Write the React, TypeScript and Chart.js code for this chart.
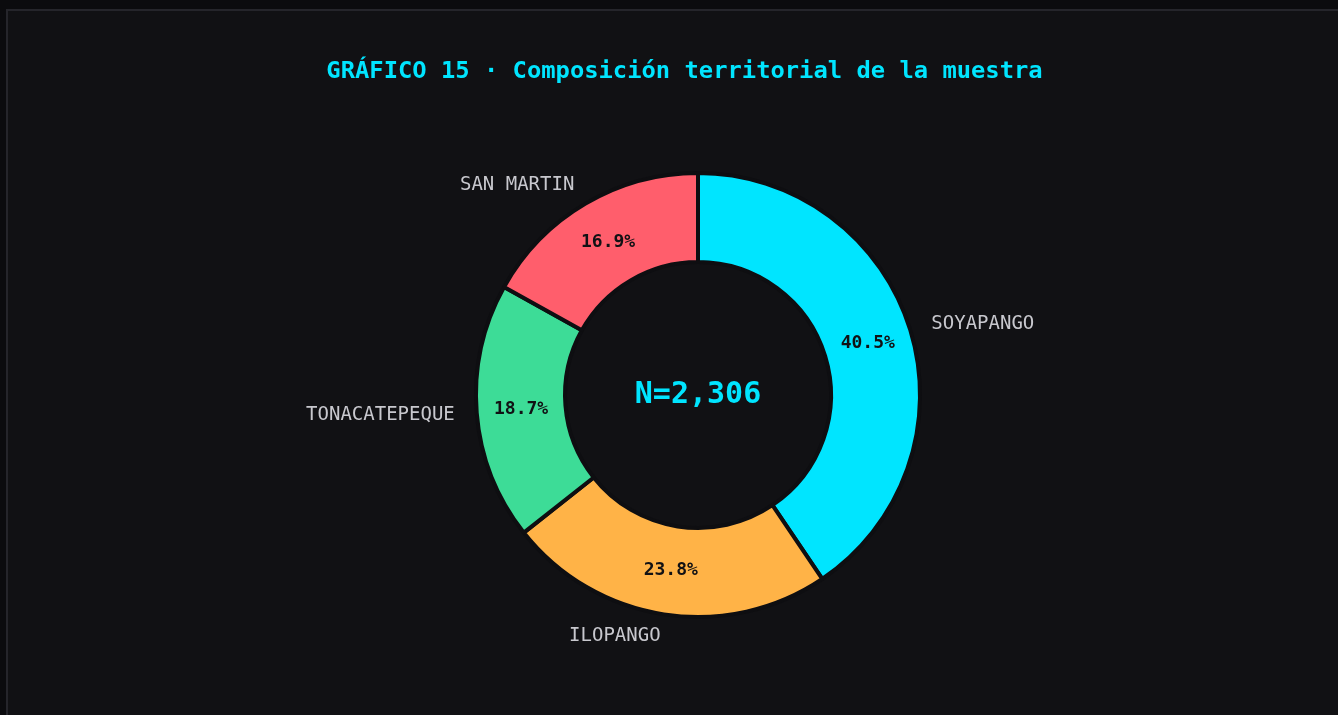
import React, { useEffect, useRef } from 'react';
import { Chart, registerables } from 'chart.js';

Chart.register(...registerables);

const titleText = 'GRÁFICO 15 · Composición territorial de la muestra';
const categories = ['SOYAPANGO', 'ILOPANGO', 'TONACATEPEQUE', 'SAN MARTIN'];
const counts = [935, 549, 432, 390];
const colors = ['#00E5FF', '#FFB347', '#3DDC97', '#FF5E6C'];

const FONT = '"DejaVu Sans Mono", monospace';
const BG = '#111114';

const labelPlugin = {
  id: 'sliceLabels',
  afterDatasetsDraw(chart: any) {
    const ctx = chart.ctx as CanvasRenderingContext2D;
    const meta = chart.getDatasetMeta(0);
    const total = counts.reduce((a, b) => a + b, 0);
    ctx.save();
    // title
    ctx.font = `bold 23.8px ${FONT}`;
    ctx.fillStyle = '#00E5FF';
    ctx.textAlign = 'center';
    ctx.textBaseline = 'middle';
    ctx.fillText(titleText, 676.5, 61);

    let cx = 0;
    let cy = 0;
    meta.data.forEach((arc: any, i: number) => {
      const p = arc.getProps(['x', 'y', 'startAngle', 'endAngle', 'innerRadius', 'outerRadius'], true);
      cx = p.x;
      cy = p.y;
      const mid = (p.startAngle + p.endAngle) / 2;
      const rMid = (p.innerRadius + p.outerRadius) / 2;
      const pct = ((counts[i] / total) * 100).toFixed(1) + '%';
      ctx.font = `bold 18px ${FONT}`;
      ctx.fillStyle = '#111114';
      ctx.textAlign = 'center';
      ctx.textBaseline = 'middle';
      ctx.fillText(pct, p.x + Math.cos(mid) * rMid, p.y + Math.sin(mid) * rMid);

      const rOut = p.outerRadius + 22;
      const lx = p.x + Math.cos(mid) * rOut;
      const ly = p.y + Math.sin(mid) * rOut;
      ctx.font = `19px ${FONT}`;
      ctx.fillStyle = '#C8C8CE';
      ctx.textAlign = lx < p.x ? 'right' : 'left';
      ctx.fillText(categories[i], lx, ly);
    });
    ctx.font = `bold 30px ${FONT}`;
    ctx.fillStyle = '#00E5FF';
    ctx.textAlign = 'center';
    ctx.textBaseline = 'middle';
    ctx.fillText('N=' + total.toLocaleString('en-US'), cx, cy);
    ctx.restore();
  },
};

export default function App() {
  const ref = useRef<HTMLCanvasElement | null>(null);
  useEffect(() => {
    if (!ref.current) return;
    const chart = new Chart(ref.current, {
      type: 'doughnut',
      data: {
        labels: categories,
        datasets: [
          {
            data: counts,
            backgroundColor: colors,
            borderColor: '#0E0E11',
            borderWidth: 4,
            radius: 222,
            cutout: '59.9%',
          } as any,
        ],
      },
      options: {
        responsive: false,
        animation: false,
        layout: { padding: { top: 164, left: 27, right: 0, bottom: 100 } },
        plugins: {
          legend: { display: false },
          tooltip: { enabled: false },
          title: { display: false },
        },
      } as any,
      plugins: [labelPlugin],
    });
    return () => chart.destroy();
  }, []);

  return (
    <div style={{ position: 'fixed', inset: 0, background: '#0B0B0E', overflow: 'hidden' }}>
      <div
        style={{
          position: 'absolute',
          left: 6,
          top: 9,
          width: 1360,
          height: 730,
          border: '2px solid #25252B',
          background: BG,
        }}
      >
        <canvas ref={ref} width={1353} height={704} style={{ display: 'block' }} />
      </div>
    </div>
  );
}
